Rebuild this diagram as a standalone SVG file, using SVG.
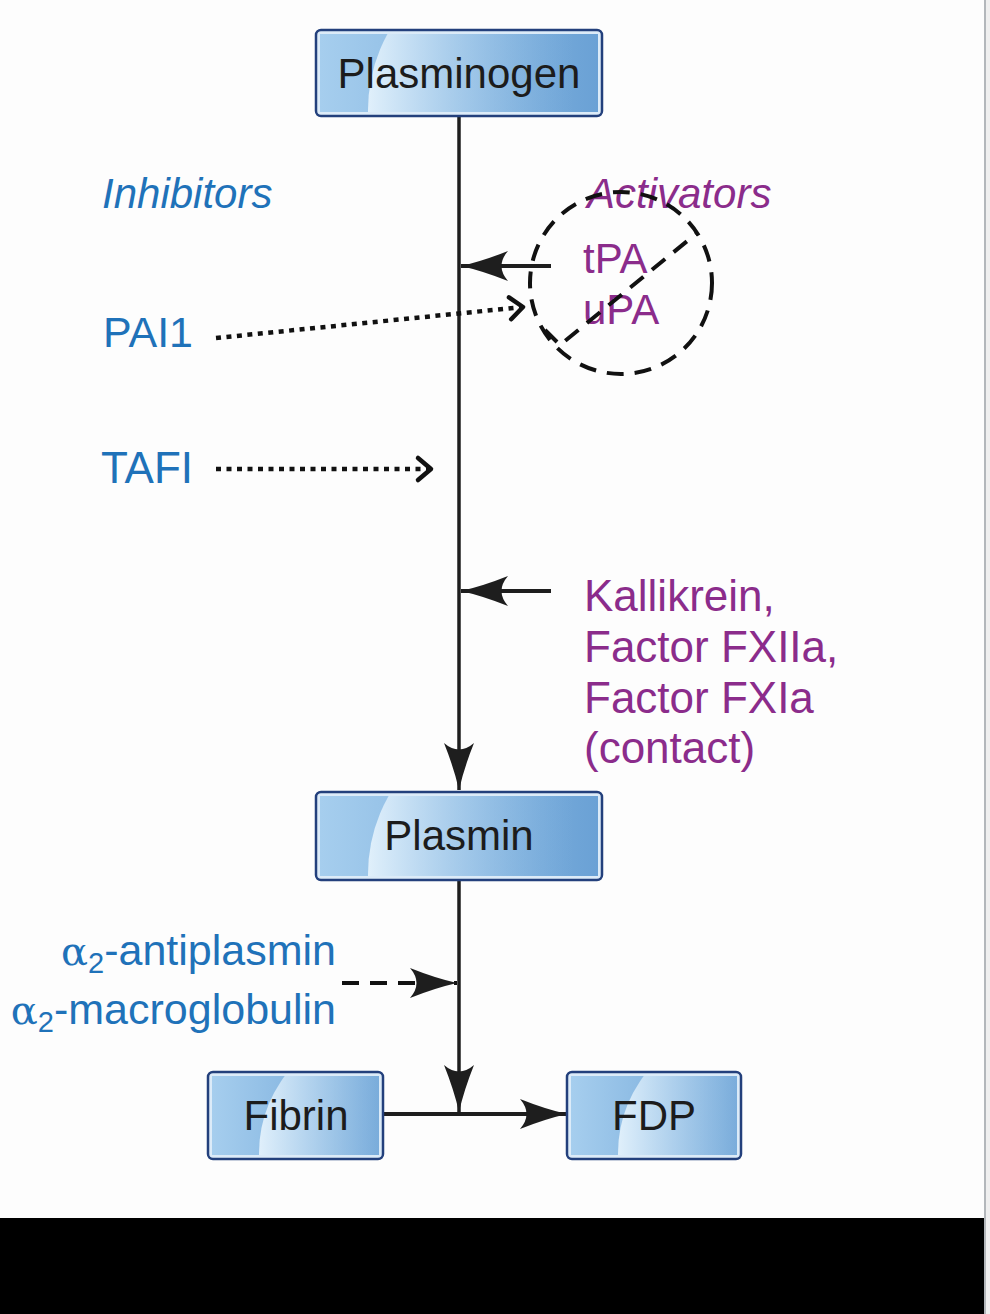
<svg xmlns="http://www.w3.org/2000/svg" width="990" height="1314" viewBox="0 0 990 1314">
<style>
.outer{fill:#dcebf8;stroke:#23407c;stroke-width:2.5}
.btxt{font-family:"Liberation Sans",Arial,sans-serif;font-size:42px;fill:#1c1c1c;text-anchor:middle}
.blue{font-family:"Liberation Sans",Arial,sans-serif;font-size:42px;fill:#1f72b9}
.purple{font-family:"Liberation Sans",Arial,sans-serif;font-size:44px;fill:#8b2c8b}
.it{font-style:italic}
.solid{stroke:#1e1e1e;stroke-width:3.5;fill:none}
.dotted{stroke:#111;stroke-width:4.5;fill:none;stroke-dasharray:5 5.5}
.dashed{stroke:#111;stroke-width:4;fill:none;stroke-dasharray:17 11}
</style>
<defs>
<linearGradient id="base" x1="0" y1="0" x2="1" y2="0">
<stop offset="0" stop-color="#a6ceee"/>
<stop offset="1" stop-color="#6aa1d5"/>
</linearGradient>
<linearGradient id="hl" x1="0" y1="0" x2="1" y2="0">
<stop offset="0" stop-color="#e4f2fc" stop-opacity="0.95"/>
<stop offset="0.65" stop-color="#8ebde5" stop-opacity="0"/>
</linearGradient>
<marker id="ah" markerUnits="userSpaceOnUse" markerWidth="60" markerHeight="40" viewBox="-50 -20 60 40" refX="0" refY="0" orient="auto" overflow="visible">
<path d="M0,0 Q-22,-5 -47,-15 Q-34,0 -47,15 Q-22,5 0,0 Z" fill="#1e1e1e"/>
</marker>
<marker id="chev" markerUnits="userSpaceOnUse" markerWidth="30" markerHeight="30" viewBox="-20 -15 30 30" refX="0" refY="0" orient="auto" overflow="visible">
<path d="M-13,-11 L0,0 L-13,11" fill="none" stroke="#111" stroke-width="4.5" stroke-linecap="round" stroke-linejoin="round"/>
</marker>
</defs>
<rect x="0" y="0" width="990" height="1314" fill="#fdfdfd"/>
<rect x="984" y="0" width="2" height="1314" fill="#b3b7bb"/>
<rect x="986" y="0" width="4" height="1314" fill="#efefef"/>
<rect x="0" y="1218" width="984" height="96" fill="#000"/>

<g id="connectors">
<line class="solid" x1="459" y1="116" x2="459" y2="790" marker-end="url(#ah)"/>
<line class="solid" x1="551" y1="266" x2="461" y2="266" style="stroke-width:4" marker-end="url(#ah)"/>
<line class="solid" x1="551" y1="591" x2="461" y2="591" style="stroke-width:4" marker-end="url(#ah)"/>
<line class="dotted" x1="216" y1="338" x2="523" y2="307" marker-end="url(#chev)"/>
<line class="dotted" x1="216" y1="469" x2="431" y2="469" marker-end="url(#chev)"/>
<line class="dashed" x1="342" y1="983" x2="457" y2="983" marker-end="url(#ah)"/>
<line class="solid" x1="459" y1="880" x2="459" y2="1112" marker-end="url(#ah)"/>
<line class="solid" x1="383" y1="1114" x2="567" y2="1114" style="stroke-width:4" marker-end="url(#ah)"/>
</g>

<g id="plasminogen">
<rect class="outer" x="316" y="30" width="286" height="86" rx="5"/>
<svg x="320" y="34" width="278" height="78"><rect width="278" height="78" fill="url(#base)"/><circle cx="206" cy="76" r="158" fill="url(#hl)"/></svg>
<text class="btxt" x="459" y="88">Plasminogen</text>
</g>

<g id="plasmin">
<rect class="outer" x="316" y="792" width="286" height="88" rx="5"/>
<svg x="320" y="796" width="278" height="80"><rect width="278" height="80" fill="url(#base)"/><circle cx="206" cy="78" r="158" fill="url(#hl)"/></svg>
<text class="btxt" x="459" y="850">Plasmin</text>
</g>

<g id="fibrin">
<rect class="outer" x="208" y="1072" width="175" height="87" rx="5"/>
<svg x="212" y="1076" width="167" height="79"><rect width="167" height="79" fill="url(#base)"/><circle cx="175" cy="77" r="128" fill="url(#hl)"/></svg>
<text class="btxt" x="296" y="1130">Fibrin</text>
</g>

<g id="fdp">
<rect class="outer" x="567" y="1072" width="174" height="87" rx="5"/>
<svg x="571" y="1076" width="166" height="79"><rect width="166" height="79" fill="url(#base)"/><circle cx="175" cy="77" r="128" fill="url(#hl)"/></svg>
<text class="btxt" x="654" y="1130">FDP</text>
</g>

<g id="inhibitors">
<text class="blue it" x="102" y="208">Inhibitors</text>
</g>
<g id="pai1">
<text class="blue" x="103" y="347" style="font-size:43px">PAI1</text>
</g>
<g id="tafi">
<text class="blue" x="101" y="483" style="font-size:44px">TAFI</text>
</g>
<g id="antiplasmins">
<text class="blue" x="336" y="965" text-anchor="end" style="font-size:43px"><tspan style="font-family:'DejaVu Serif',serif;font-size:40px">α</tspan><tspan style="font-size:29px" dy="8">2</tspan><tspan dy="-8">-antiplasmin</tspan></text>
<text class="blue" x="336" y="1024" text-anchor="end" style="font-size:43px"><tspan style="font-family:'DejaVu Serif',serif;font-size:40px">α</tspan><tspan style="font-size:29px" dy="8">2</tspan><tspan dy="-8">-macroglobulin</tspan></text>
</g>

<g id="activators">
<text class="purple it" x="587" y="208" style="font-size:42px">Activators</text>
<text class="purple" x="583" y="273" style="font-size:42px">tPA</text>
<text class="purple" x="583" y="324" style="font-size:42px">uPA</text>
</g>
<g id="blocked">
<circle cx="621" cy="283" r="91" class="dashed"/>
<polyline class="dashed" points="545,330 560,345 697,233"/>
</g>

<g id="contact">
<text class="purple" x="584" y="611">Kallikrein,</text>
<text class="purple" x="584" y="662">Factor FXIIa,</text>
<text class="purple" x="584" y="713">Factor FXIa</text>
<text class="purple" x="584" y="763">(contact)</text>
</g>
</svg>
